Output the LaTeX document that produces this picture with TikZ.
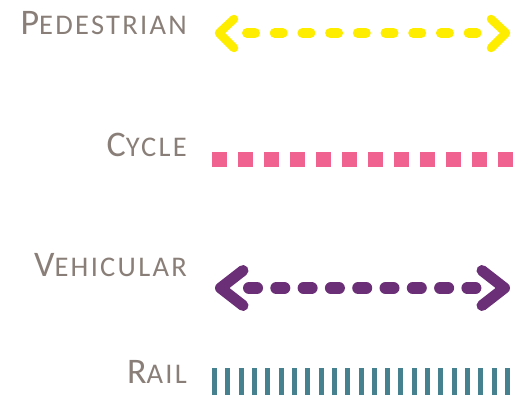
\documentclass[tikz,border=0pt]{standalone}
\usepackage{fontspec}
\setmainfont{Carlito}
\definecolor{labelgray}{HTML}{8A7F78}
\definecolor{pedyellow}{HTML}{FFED00}
\definecolor{cyclepink}{HTML}{F06290}
\definecolor{vehpurple}{HTML}{6B2F77}
\definecolor{railteal}{HTML}{46818F}
% faked small capitals: large initial, smaller remaining capitals, slightly tracked
\newcommand{\legendsc}[2]{{\addfontfeature{LetterSpace=8}%
  {\fontsize{36}{36}\selectfont #1}{\fontsize{28.5}{28.5}\selectfont #2}}}
\tikzset{
  legendlabel/.style={anchor=base east, inner sep=0pt, text=labelgray},
  chevron/.style={line cap=round, line join=round},
  rounddash/.style={line cap=round},
}
\begin{document}
\begin{tikzpicture}[x=1pt,y=-1pt]
\useasboundingbox (0,0) rectangle (518,401);

% labels
\node[legendlabel] (ped) at (187,35) {\legendsc{P}{EDESTRIAN}};
\node[legendlabel] (cyc) at (187,156) {\legendsc{C}{YCLE}};
\node[legendlabel] (veh) at (187,276) {\legendsc{V}{EHICULAR}};
\node[legendlabel] (rail) at (187,383) {\legendsc{R}{AIL}};

% pedestrian: dashed two-headed line
\coordinate (pedL) at (247,33);
\coordinate (pedR) at (477,33);
\draw[pedyellow, line width=10pt, rounddash, dash pattern=on 8pt off 19.7pt] (pedL) -- (pedR);
\draw[pedyellow, line width=8.5pt, chevron] (234,19) -- (219,33) -- (234,48);
\draw[pedyellow, line width=8.5pt, chevron] (491,19) -- (506,33) -- (491,48);

% cycle: square dots
\coordinate (cycL) at (212,159.5);
\coordinate (cycR) at (518,159.5);
\draw[cyclepink, line width=15pt, dash pattern=on 15pt off 11pt] (cycL) -- (cycR);

% vehicular: heavy dashed two-headed line
\coordinate (vehL) at (249,288);
\coordinate (vehR) at (476,288);
\draw[vehpurple, line width=12pt, rounddash, dash pattern=on 8pt off 19.3pt] (vehL) -- (vehR);
\draw[vehpurple, line width=11pt, chevron] (243,270.5) -- (220.5,288) -- (243,305.5);
\draw[vehpurple, line width=11pt, chevron] (482,270.5) -- (504.5,288) -- (482,305.5);

% rail: ticks
\coordinate (railL) at (212,381.5);
\coordinate (railR) at (511,381.5);
\draw[railteal, line width=27pt, dash pattern=on 5pt off 8.32pt] (railL) -- (railR);
\end{tikzpicture}
\end{document}
